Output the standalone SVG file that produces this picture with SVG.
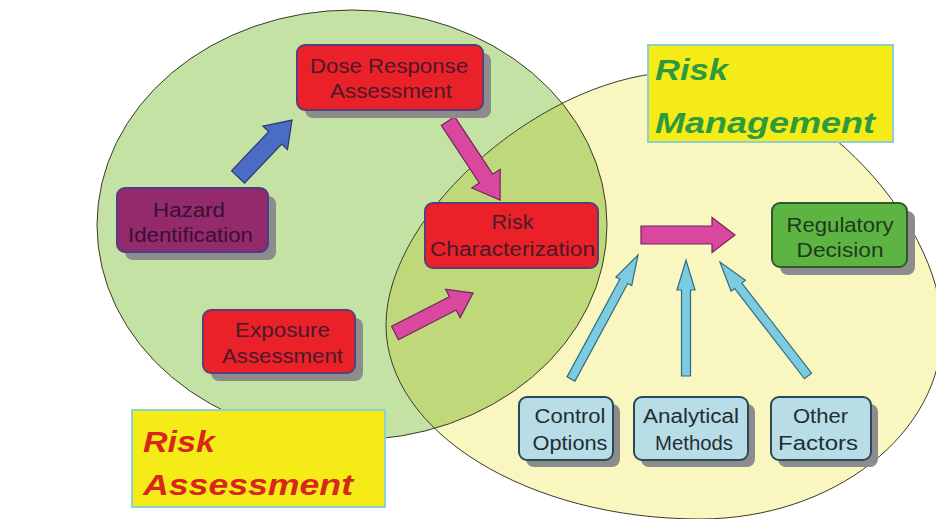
<svg xmlns="http://www.w3.org/2000/svg" width="936" height="519" viewBox="0 0 936 519">
<defs>
<style>
.shadow{fill:#8c8c8c}
.node{stroke-width:2}
.red{fill:#ea2129;stroke:#5b3d7a}
.haz{fill:#932a6b;stroke:#4a3e86}
.reg{fill:#5db443;stroke:#2e5a2a}
.lb{fill:#b8dde6;stroke:#2c4a55}
.t{font-family:"Liberation Sans",Arial,sans-serif;font-size:20px;text-anchor:middle}
.tr{fill:#4a1a28}
.th{fill:#3a1030}
.tg{fill:#1e3a1e}
.tb{fill:#1e2e33}
.lab{fill:#f5ec17;stroke:#8ecfcf;stroke-width:2}
.lt{font-family:"Liberation Sans",Arial,sans-serif;font-weight:bold;font-style:italic;font-size:30px}
.pink{fill:#d9489e;stroke:#6a2a5a;stroke-width:1.2}
.blue{fill:#4a6cc4;stroke:#2a3a70;stroke-width:1.2}
.lblue{fill:#7dcbe0;stroke:#2e6e80;stroke-width:1.2}
.outline{fill:none;stroke:#3a3a2a;stroke-width:1}
</style>
<clipPath id="gclip"><ellipse cx="352" cy="225" rx="255" ry="215"/></clipPath>
<path id="ypath" d="M386,325 C386,211 549,72 680,72 C798,72 942,214 942,330 C942,434 833,519 700,519 C528,519 386,432 386,325 Z"/>
</defs>
<rect width="936" height="519" fill="#ffffff"/>
<g id="background">
<ellipse cx="352" cy="225" rx="255" ry="215" fill="#c4e2a4"/>
<use href="#ypath" fill="#faf6c0"/>
<use href="#ypath" fill="#bfd97a" clip-path="url(#gclip)"/>
<ellipse class="outline" cx="352" cy="225" rx="255" ry="215"/>
<use href="#ypath" class="outline"/>
</g>
<g id="label-risk-management">
<rect class="lab" x="648" y="45" width="245" height="97"/>
<text class="lt" x="655" y="80" fill="#2e9a3e" textLength="73" lengthAdjust="spacingAndGlyphs">Risk</text>
<text class="lt" x="655" y="133" fill="#2e9a3e" textLength="220" lengthAdjust="spacingAndGlyphs">Management</text>
</g>
<g id="label-risk-assessment">
<rect class="lab" x="132" y="410" width="253" height="97"/>
<text class="lt" x="143" y="452" fill="#d9261c" textLength="72" lengthAdjust="spacingAndGlyphs">Risk</text>
<text class="lt" x="143" y="495" fill="#d9261c" textLength="210" lengthAdjust="spacingAndGlyphs">Assessment</text>
</g>
<g id="connectors">
<path class="blue" transform="translate(238,177) rotate(-46.5)" d="M0,-9 L54,-9 L54,-17 L78.5,0 L54,17 L54,9 L0,9 Z"/>
<path class="pink" transform="translate(448,121) rotate(56.6)" d="M0,-8 L69,-8 L69,-17 L94.6,0 L69,17 L69,8 L0,8 Z"/>
<path class="pink" transform="translate(395,333) rotate(-27.1)" d="M0,-7.5 L65,-7.5 L65,-16 L87.7,0 L65,16 L65,7.5 L0,7.5 Z"/>
<path class="pink" transform="translate(641,235)" d="M0,-9 L71,-9 L71,-17.5 L94,0 L71,17.5 L71,9 L0,9 Z"/>
<path class="lblue" transform="translate(571,379) rotate(-61.6)" d="M0,-4.5 L111,-4.5 L111,-9 L141,0 L111,9 L111,4.5 L0,4.5 Z"/>
<path class="lblue" transform="translate(686,376) rotate(-90)" d="M0,-4.5 L86,-4.5 L86,-9 L116,0 L86,9 L86,4.5 L0,4.5 Z"/>
<path class="lblue" transform="translate(808,376) rotate(-127.7)" d="M0,-4.5 L114,-4.5 L114,-9 L144,0 L114,9 L114,4.5 L0,4.5 Z"/>
</g>
<g id="node-dose-response">
<rect class="shadow" x="305" y="53" width="186" height="65" rx="8"/>
<rect class="node red" x="297" y="45" width="186" height="65" rx="8"/>
<text class="t tr" x="389" y="72.7" textLength="158" lengthAdjust="spacingAndGlyphs">Dose Response</text>
<text class="t tr" x="391" y="98.3" textLength="122" lengthAdjust="spacingAndGlyphs">Assessment</text>
</g>
<g id="node-hazard">
<rect class="shadow" x="125" y="196" width="151" height="64" rx="8"/>
<rect class="node haz" x="117" y="188" width="151" height="64" rx="8"/>
<text class="t th" x="189" y="216.7" textLength="72" lengthAdjust="spacingAndGlyphs">Hazard</text>
<text class="t th" x="190.5" y="241.7" textLength="125" lengthAdjust="spacingAndGlyphs">Identification</text>
</g>
<g id="node-exposure">
<rect class="shadow" x="211" y="318" width="152" height="63" rx="8"/>
<rect class="node red" x="203" y="310" width="152" height="63" rx="8"/>
<text class="t tr" x="282.5" y="336.7" textLength="95" lengthAdjust="spacingAndGlyphs">Exposure</text>
<text class="t tr" x="282.5" y="363.3" textLength="121" lengthAdjust="spacingAndGlyphs">Assessment</text>
</g>
<g id="node-risk-characterization">
<rect class="node red" x="425" y="203" width="173" height="65" rx="8"/>
<text class="t tr" x="512.5" y="229" textLength="42" lengthAdjust="spacingAndGlyphs">Risk</text>
<text class="t tr" x="512.5" y="256" textLength="165" lengthAdjust="spacingAndGlyphs">Characterization</text>
</g>
<g id="node-regulatory-decision">
<rect class="shadow" x="780" y="211" width="135" height="64" rx="8"/>
<rect class="node reg" x="772" y="203" width="135" height="64" rx="8"/>
<text class="t tg" x="840" y="231.7" textLength="107" lengthAdjust="spacingAndGlyphs">Regulatory</text>
<text class="t tg" x="840" y="256.7" textLength="87" lengthAdjust="spacingAndGlyphs">Decision</text>
</g>
<g id="node-control-options">
<rect class="shadow" x="526" y="404" width="94" height="63" rx="8"/>
<rect class="node lb" x="519" y="397" width="94" height="63" rx="8"/>
<text class="t tb" x="570" y="423.3" textLength="71" lengthAdjust="spacingAndGlyphs">Control</text>
<text class="t tb" x="570" y="450" textLength="75" lengthAdjust="spacingAndGlyphs">Options</text>
</g>
<g id="node-analytical-methods">
<rect class="shadow" x="641" y="404" width="114" height="63" rx="8"/>
<rect class="node lb" x="634" y="397" width="114" height="63" rx="8"/>
<text class="t tb" x="691" y="423.3" textLength="96" lengthAdjust="spacingAndGlyphs">Analytical</text>
<text class="t tb" x="694" y="450" textLength="78" lengthAdjust="spacingAndGlyphs">Methods</text>
</g>
<g id="node-other-factors">
<rect class="shadow" x="778" y="404" width="100" height="63" rx="8"/>
<rect class="node lb" x="771" y="397" width="100" height="63" rx="8"/>
<text class="t tb" x="820.5" y="423.3" textLength="55" lengthAdjust="spacingAndGlyphs">Other</text>
<text class="t tb" x="818" y="450" textLength="80" lengthAdjust="spacingAndGlyphs">Factors</text>
</g>
</svg>
